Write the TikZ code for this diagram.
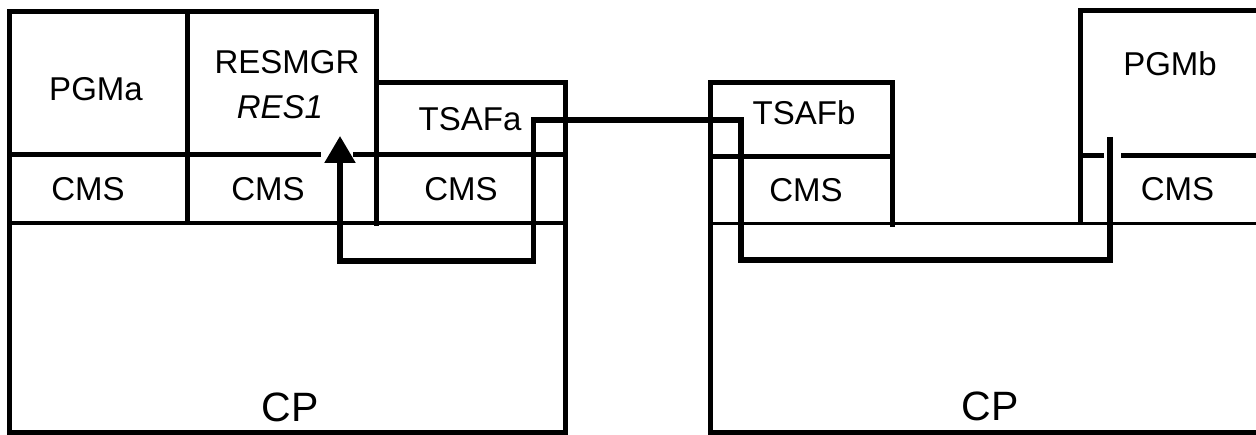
\documentclass[tikz,border=0pt]{standalone}
\usepackage{fontspec}
\setmainfont{Liberation Sans}
\usetikzlibrary{arrows.meta}
\begin{document}
\begin{tikzpicture}[x=1pt,y=-1pt,
  boxline/.style={line width=5pt,line cap=rect},
  thinline/.style={line width=3.8pt,line cap=rect},
  lbl/.style={inner sep=0pt,font=\fontsize{33}{36}\selectfont},
  cplbl/.style={inner sep=0pt,font=\fontsize{41}{44}\selectfont},
  conn/.style={line width=5.5pt}]
\useasboundingbox (0,0) rectangle (1256,435);
% ---------- left system ----------
\draw[boxline] (376,224) -- (376,12) -- (9,12) -- (9,433) -- (565,433) -- (565,82.5) -- (376,82.5);
\draw[boxline] (187.5,12) -- (187.5,223);
\draw[boxline] (9,154.5) -- (318,154.5);
\draw[boxline] (355,154.5) -- (565,154.5);
\draw[thinline] (9,223) -- (565,223);
% ---------- right system ----------
\draw[boxline] (1256,433) -- (710,433) -- (710,83) -- (892.5,83) -- (892.5,225);
\draw[boxline] (710,157) -- (892.5,157);
\draw[boxline] (1256,10.5) -- (1080.5,10.5) -- (1080.5,223);
\draw[boxline] (1080.5,155.5) -- (1101,155.5);
\draw[boxline] (1123,155.5) -- (1256,155.5);
\draw[thinline] (710,223.5) -- (1256,223.5);
% ---------- labels ----------
\node[lbl] (pgma) at (96,89) {PGMa};
\node[lbl] (resmgr) at (287,62) {RESMGR};
\node[lbl] (res1) at (280,107.5) {\itshape RES1};
\node[lbl] (tsafa) at (470,119.5) {TSAFa};
\node[lbl] (cms1) at (88,189) {CMS};
\node[lbl] (cms2) at (268,189) {CMS};
\node[lbl] (cms3) at (461,189) {CMS};
\node[cplbl] (cpa) at (290,407) {CP};
\node[lbl] (tsafb) at (804,112.5) {TSAFb};
\node[lbl] (cms4) at (806,190) {CMS};
\node[lbl] (pgmb) at (1170,64) {PGMb};
\node[lbl] (cms5) at (1177.5,189.5) {CMS};
\node[cplbl] (cpb) at (990,406) {CP};
% ---------- connector ----------
\coordinate (pgmbout) at (1110,137);
\coordinate (b1) at (1110,260);
\coordinate (b2) at (741,260);
\coordinate (b3) at (741,120);
\coordinate (b4) at (533.5,120);
\coordinate (b5) at (533.5,261);
\coordinate (b6) at (340,261);
\coordinate (res1in) at (340,136);
\draw[conn,-{Triangle[width=30pt,length=27pt]}]
  (pgmbout) -- (b1) -- (b2) -- (b3) -- (b4) -- (b5) -- (b6) -- (res1in);
\end{tikzpicture}
\end{document}
